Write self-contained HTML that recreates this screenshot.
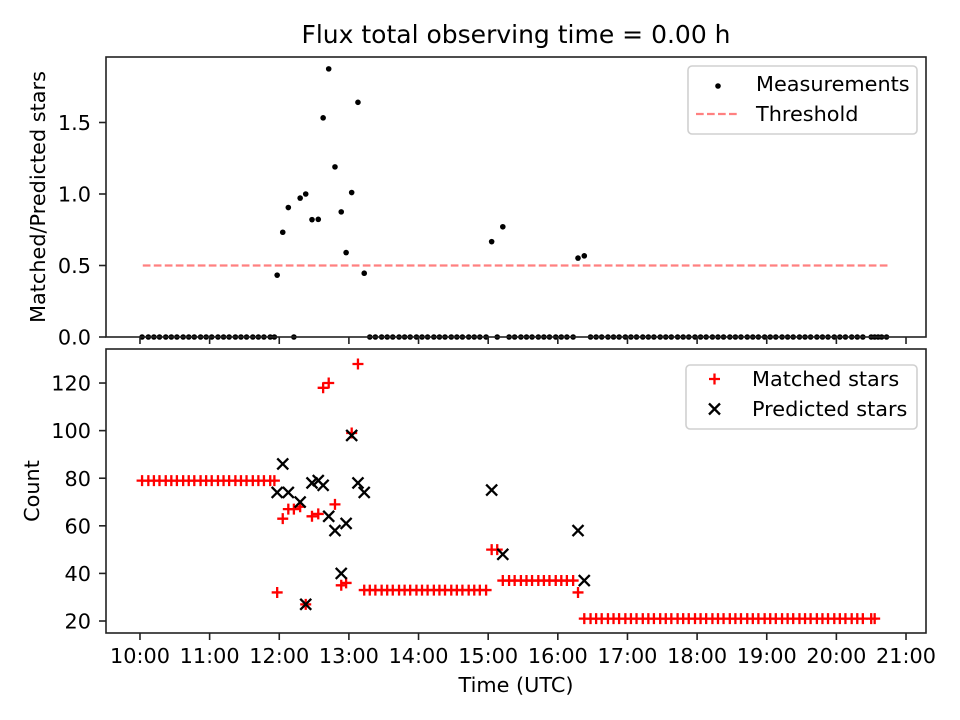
<!DOCTYPE html>
<html><head><meta charset="utf-8">
<style>
body{margin:0;background:#fff;}
svg{display:block;font-family:"DejaVu Sans","Liberation Sans",sans-serif;}
</style></head>
<body>
<svg id="chart" width="960" height="720" viewBox="0 0 960 720">
<text x="516" y="43" font-size="25" text-anchor="middle">Flux total observing time = 0.00 h</text>
</svg>
<script>
// --- data ---
const measTimes = [11.97,12.05,12.13,12.21,12.30,12.38,12.47,12.56,12.63,12.71,12.80,12.89,12.96,13.04,13.13,13.22,15.05,15.13,15.21,16.29,16.38];
const measMatched = [32,63,67,67,68,27,64,65,118,120,69,35,36,99,128,33,50,50,37,32,21];
const measPredicted = [74,86,74,0,70,27,78,79,77,64,58,40,61,98,78,74,75,0,48,58,37];
const zeroTimes = [10.03,10.12,10.2,10.28,10.37,10.45,10.53,10.62,10.7,10.78,10.87,10.95,11.03,11.12,11.2,11.28,11.37,11.45,11.53,11.62,11.7,11.78,11.87,11.93,
 13.3,13.38,13.47,13.55,13.63,13.72,13.8,13.88,13.97,14.05,14.13,14.22,14.3,14.38,14.47,14.55,14.63,14.72,14.8,14.88,14.97,
 15.3,15.38,15.47,15.55,15.63,15.72,15.8,15.88,15.97,16.05,16.13,16.22,
 16.47,16.55,16.63,16.72,16.8,16.88,16.97,17.05,17.13,17.22,17.3,17.38,17.47,17.55,17.63,17.72,17.8,17.88,17.97,18.05,18.13,18.22,18.3,18.38,18.47,18.55,18.63,18.72,18.8,18.88,18.97,19.05,19.13,19.22,19.3,19.38,19.47,19.55,19.63,19.72,19.8,19.88,19.97,20.05,20.13,20.22,20.3,20.38,20.5,20.55,20.6,20.65,20.72];
const zeroMatched = [79,79,79,79,79,79,79,79,79,79,79,79,79,79,79,79,79,79,79,79,79,79,79,79,
 33,33,33,33,33,33,33,33,33,33,33,33,33,33,33,33,33,33,33,33,33,
 37,37,37,37,37,37,37,37,37,37,37,37,
 21,21,21,21,21,21,21,21,21,21,21,21,21,21,21,21,21,21,21,21,21,21,21,21,21,21,21,21,21,21,21,21,21,21,21,21,21,21,21,21,21,21,21,21,21,21,21,21,21,21];
const threshold = 0.5;
const thresholdRange = [10.04, 20.77];
const topTicks = [0.0,0.5,1.0,1.5];
const bottomTicks = [20,40,60,80,100,120];
const xTicks = [10,11,12,13,14,15,16,17,18,19,20,21];
const xTickLabels = ["10:00","11:00","12:00","13:00","14:00","15:00","16:00","17:00","18:00","19:00","20:00","21:00"];

// --- layout ---
const L=106,R=926, T1=57,B1=337, T2=349,B2=633;
const xMin=9.512,xMax=21.287;
const x=h=>L+(h-xMin)/(xMax-xMin)*(R-L);
const y1=v=>B1-(v-0)/(1.958-0)*(B1-T1);
const y2=v=>B2-(v-14.96)/(134.3-14.96)*(B2-T2);
const svg=document.getElementById('chart');
const NS='http://www.w3.org/2000/svg';
const FS=20.8;
function mk(tag,attrs,parent){const e=document.createElementNS(NS,tag);for(const k in attrs)e.setAttribute(k,attrs[k]);(parent||svg).appendChild(e);return e;}

const gTop=mk('g',{});


const gBot=mk('g',{});



const th=mk('line',{x1:x(thresholdRange[0]),x2:x(thresholdRange[1]),y1:y1(threshold),y2:y1(threshold),stroke:'#ff8080','stroke-width':2.2,'stroke-dasharray':'7.7,3.3'},gTop);



function dot(t,r){const c=mk('circle',{cx:x(t),cy:y1(r),r:2.8,fill:'#000'},gTop);
 
 }
zeroTimes.forEach(t=>dot(t,0));
measTimes.forEach((t,i)=>{const r=measPredicted[i]>0?measMatched[i]/measPredicted[i]:0;dot(t,r);});

function plus(t,v){const cx=x(t),cy=y2(v);const p=mk('path',{d:`M${cx-5.5},${cy}H${cx+5.5}M${cx},${cy-5.5}V${cy+5.5}`,stroke:'#ff0000','stroke-width':2.3,fill:'none'},gBot);
 
 }
function cross(t,v){const cx=x(t),cy=y2(v);const p=mk('path',{d:`M${cx-5.5},${cy-5.5}L${cx+5.5},${cy+5.5}M${cx-5.5},${cy+5.5}L${cx+5.5},${cy-5.5}`,stroke:'#000','stroke-width':2.3,fill:'none'},gBot);
 
 }
zeroTimes.forEach((t,i)=>plus(t,zeroMatched[i]));
measTimes.forEach((t,i)=>plus(t,measMatched[i]));
measTimes.forEach((t,i)=>{if(measPredicted[i]>0)cross(t,measPredicted[i]);});

[[T1,B1,gTop],[T2,B2,gBot]].forEach(([t,b,g])=>{const f=mk('rect',{x:L,y:t,width:R-L,height:b-t,fill:'none',stroke:'#222','stroke-width':1.6},g);
 
 });

xTicks.forEach((h,i)=>{const xx=x(h);
 mk('line',{x1:xx,x2:xx,y1:B1,y2:B1+7,stroke:'#222','stroke-width':1.6},gTop);
 mk('line',{x1:xx,x2:xx,y1:B2,y2:B2+7,stroke:'#222','stroke-width':1.6},gBot);
 const tx=mk('text',{x:xx,y:663,'font-size':FS,'text-anchor':'middle'},gBot);tx.textContent=xTickLabels[i];
 
 });
topTicks.forEach(v=>{const yy=y1(v);mk('line',{x1:L-7,x2:L,y1:yy,y2:yy,stroke:'#222','stroke-width':1.6},gTop);
 const tx=mk('text',{x:L-15,y:yy+7.6,'font-size':FS,'text-anchor':'end'},gTop);tx.textContent=v.toFixed(1);
 
 });
bottomTicks.forEach(v=>{const yy=y2(v);mk('line',{x1:L-7,x2:L,y1:yy,y2:yy,stroke:'#222','stroke-width':1.6},gBot);
 const tx=mk('text',{x:L-15,y:yy+7.6,'font-size':FS,'text-anchor':'end'},gBot);tx.textContent=v;
 
 });

let a=mk('text',{x:516,y:692,'font-size':FS,'text-anchor':'middle'});a.textContent='Time (UTC)';


a=mk('text',{x:45,y:197,'font-size':FS,'text-anchor':'middle',transform:'rotate(-90 45 197)'});a.textContent='Matched/Predicted stars';


a=mk('text',{x:39,y:491,'font-size':FS,'text-anchor':'middle',transform:'rotate(-90 39 491)'});a.textContent='Count';



let lg=mk('rect',{x:688,y:66,width:229,height:68,rx:4,fill:'#fff',stroke:'#d0d0d0','stroke-width':1.6});


mk('circle',{cx:718,cy:86,r:2.8,fill:'#000'});
let t=mk('text',{x:756,y:91,'font-size':FS});t.textContent='Measurements';


mk('line',{x1:696,x2:738,y1:114,y2:114,stroke:'#ff8080','stroke-width':2.2,'stroke-dasharray':'7.7,3.3'});
t=mk('text',{x:756,y:121,'font-size':FS});t.textContent='Threshold';


lg=mk('rect',{x:686,y:365,width:231,height:64,rx:4,fill:'#fff',stroke:'#d0d0d0','stroke-width':1.6});


mk('path',{d:'M709,379H720M714.5,373.5V384.5',stroke:'#ff0000','stroke-width':2.3});
t=mk('text',{x:752,y:386,'font-size':FS});t.textContent='Matched stars';


mk('path',{d:'M709,403.5L720,414.5M709,414.5L720,403.5',stroke:'#000','stroke-width':2.3});
t=mk('text',{x:752,y:416,'font-size':FS});t.textContent='Predicted stars';


</script>
</body></html>
